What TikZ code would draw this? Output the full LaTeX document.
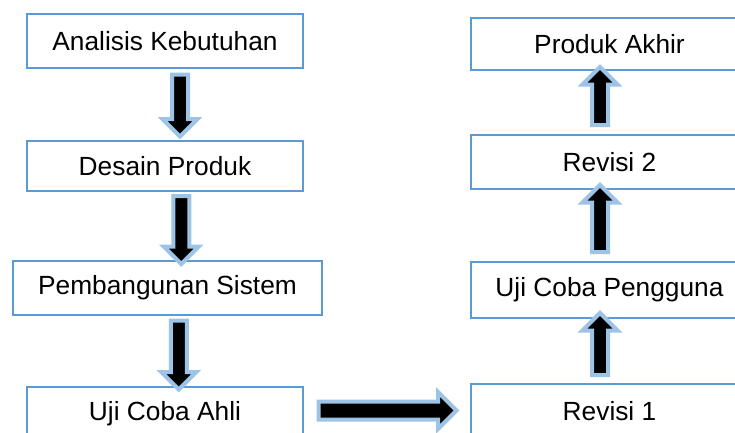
\documentclass[tikz,border=0pt]{standalone}
\usepackage{fontspec}
\setmainfont{Liberation Sans}
\usetikzlibrary{shapes.arrows,calc}
\definecolor{boxblue}{HTML}{5B9BD5}
\definecolor{arrblue}{HTML}{9DC3E6}
\begin{document}
\begin{tikzpicture}[x=1pt,y=-1pt,
  box/.style={draw=boxblue, line width=2pt, fill=white, minimum width=276pt, inner sep=0pt,
    font=\fontsize{26.3}{30}\selectfont},
  blockarr/.style={single arrow, draw=arrblue, line width=4pt, fill=black, inner sep=6pt,
    single arrow head extend=9.5pt, single arrow tip angle=90, anchor=center}
]
\useasboundingbox (0,0) rectangle (735,432);
\clip (0,0) rectangle (735,432);
% left column
\node[box, minimum height=54pt] (a) at (165,41) {Analisis Kebutuhan};
\node[box, minimum height=50pt] (b) at (165,166) {Desain Produk};
\node[box, minimum height=54pt, minimum width=309pt] (c) at (167.5,288) {Pembangunan Sistem};
\node[box, minimum height=54pt] (d) at (165,414) {Uji Coba Ahli};
% right column
\node[box, minimum height=54pt, minimum width=277pt] (e) at (609.5,411) {Revisi 1};
\node[box, minimum height=56pt, minimum width=277pt] (f) at (609.5,290) {Uji Coba Pengguna};
\node[box, minimum height=54pt, minimum width=277pt] (g) at (609.5,162) {Revisi 2};
\node[box, minimum height=52pt, minimum width=277pt] (h) at (609.5,44) {Produk Akhir};
% down arrows
\node[blockarr, minimum height=62pt, rotate=-90] (ab) at ($(a.south)!0.5!(b.north)+(15,-3)$) {};
\node[blockarr, minimum height=68pt, rotate=-90] (bc) at ($(b.south)!0.5!(c.north)+(15,0)$) {};
\node[blockarr, minimum height=69pt, rotate=-90] (cd) at ($(c.south)!0.5!(d.north)+(12.5,0)$) {};
% horizontal arrow
\node[blockarr, minimum height=138pt, inner sep=7pt] (de) at ($(d.east)!0.5!(e.west)+(-4,-2)$) {};
% up arrows
\node[blockarr, minimum height=62pt, rotate=90] (ef) at (600,348) {};
\node[blockarr, minimum height=67pt, rotate=90] (fg) at (600,222.5) {};
\node[blockarr, minimum height=58pt, rotate=90] (gh) at (600,100) {};
\end{tikzpicture}
\end{document}
